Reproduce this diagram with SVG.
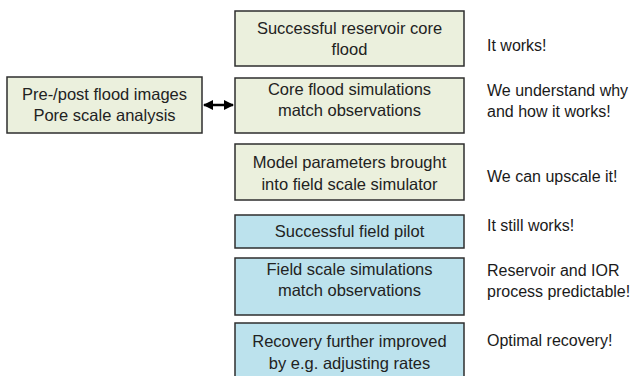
<svg xmlns="http://www.w3.org/2000/svg" width="639" height="376" viewBox="0 0 639 376">
<defs>
<style>
.g{fill:#ebf0dd;stroke:#2e2e2e;stroke-width:1.5}
.b{fill:#bce2ed;stroke:#2e2e2e;stroke-width:1.5}
.t{font-family:"Liberation Sans",Arial,sans-serif;font-size:16.5px;fill:#222;text-anchor:middle}
.r{font-family:"Liberation Sans",Arial,sans-serif;font-size:16px;fill:#1a1a1a}
</style>
<marker id="ah" viewBox="0 0 10 10" refX="9" refY="5" markerWidth="4" markerHeight="4" orient="auto-start-reverse">
<path d="M0,0 L10,5 L0,10 z" fill="#000"/>
</marker>
</defs>
<rect width="639" height="376" fill="#fff"/>
<g id="edges">
<line x1="204" y1="105" x2="233" y2="105" stroke="#000" stroke-width="2.5" marker-start="url(#ah)" marker-end="url(#ah)"/>
</g>
<g id="n1"><rect class="g" x="235" y="11" width="229" height="55"/>
<text class="t" x="349.5" y="34">Successful reservoir core</text><text class="t" x="349.5" y="55">flood</text></g>
<g id="n2"><rect class="g" x="235" y="78" width="229" height="55"/>
<text class="t" x="349.5" y="95">Core flood simulations</text><text class="t" x="349.5" y="116">match observations</text></g>
<g id="n3"><rect class="g" x="235" y="144" width="229" height="56"/>
<text class="t" x="349.5" y="168">Model parameters brought</text><text class="t" x="349.5" y="190">into field scale simulator</text></g>
<g id="n4"><rect class="b" x="235" y="215" width="229" height="33"/>
<text class="t" x="349.5" y="237">Successful field pilot</text></g>
<g id="n5"><rect class="b" x="235" y="258" width="229" height="57"/>
<text class="t" x="349.5" y="275">Field scale simulations</text><text class="t" x="349.5" y="296">match observations</text></g>
<g id="n6"><rect class="b" x="235" y="323" width="229" height="60"/>
<text class="t" x="349.5" y="347">Recovery further improved</text><text class="t" x="349.5" y="369">by e.g. adjusting rates</text></g>
<g id="n0"><rect class="g" x="7" y="77" width="195" height="56"/>
<text class="t" x="104.5" y="100">Pre-/post flood images</text><text class="t" x="104.5" y="121">Pore scale analysis</text></g>
<g id="labels">
<text class="r" x="487" y="51">It works!</text>
<text class="r" x="487" y="96">We understand why</text>
<text class="r" x="487" y="117">and how it works!</text>
<text class="r" x="487" y="182">We can upscale it!</text>
<text class="r" x="487" y="231">It still works!</text>
<text class="r" x="487" y="276">Reservoir and IOR</text>
<text class="r" x="487" y="297">process predictable!</text>
<text class="r" x="487" y="346">Optimal recovery!</text>
</g>
</svg>
